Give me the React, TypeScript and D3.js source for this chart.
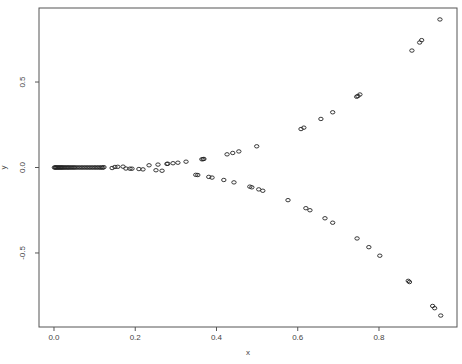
import React from "react";
import * as d3 from "d3";

const xTicks = [0.0, 0.2, 0.4, 0.6, 0.8];
const yTicks = [-0.5, 0.0, 0.5];

const clusterX = [
  0.001, 0.003, 0.004, 0.006, 0.008, 0.010, 0.012, 0.014, 0.016, 0.018, 0.020,
  0.022, 0.025, 0.027, 0.030, 0.033, 0.035, 0.038, 0.041, 0.044, 0.047, 0.050,
  0.053, 0.057, 0.061, 0.065, 0.069, 0.073, 0.077, 0.081, 0.085, 0.089, 0.093,
  0.097, 0.101, 0.105, 0.109, 0.113, 0.117, 0.120, 0.123,
];
const clusterY = [
  0, 0, 0, 0, 0, 0, 0, 0, 0, 0, 0, 0, 0, 0, 0, 0, 0, 0, 0, 0, 0, 0, 0, 0, 0.0002,
  -0.0003, 0.0003, -0.0004, 0.0005, -0.0005, 0.0006, -0.0007, 0.0008, -0.0009,
  0.001, -0.0012, 0.0013, -0.0014, 0.0016, -0.0017, 0.0019,
];

const outerX = [
  0.143, 0.150, 0.157, 0.170, 0.177, 0.187, 0.192, 0.209, 0.219, 0.234, 0.251,
  0.256, 0.266, 0.278, 0.280, 0.293, 0.305, 0.325, 0.349, 0.354, 0.364, 0.367,
  0.369, 0.381, 0.389, 0.418, 0.426, 0.440, 0.443, 0.455, 0.482, 0.487, 0.499,
  0.504, 0.514, 0.576, 0.608, 0.615, 0.620, 0.630, 0.657, 0.667, 0.686, 0.686,
  0.745, 0.748, 0.753, 0.746, 0.775, 0.802, 0.872, 0.875, 0.881, 0.900, 0.905,
  0.932, 0.937, 0.950, 0.952,
];
const outerY = [
  -0.003, 0.003, 0.004, 0.005, -0.006, -0.007, -0.007, -0.009, -0.011, 0.013,
  -0.016, 0.017, -0.019, 0.021, 0.022, 0.025, 0.028, 0.034, -0.043, -0.044,
  0.048, 0.049, 0.050, -0.055, -0.059, -0.073, 0.077, 0.085, -0.087, 0.094,
  -0.112, -0.116, 0.124, -0.128, -0.136, -0.191, 0.225, 0.233, -0.238, -0.25,
  0.284, -0.297, 0.323, -0.323, 0.414, 0.418, 0.427, -0.415, -0.466, -0.516,
  -0.663, -0.67, 0.684, 0.731, 0.745, -0.81, -0.823, 0.866, -0.866,
];

const W = 462;
const H = 364;
const left = 39;
const right = 457;
const top = 8;
const bottom = 327;

export default function App() {
  const x = d3.scaleLinear().domain([-0.0369, 0.992]).range([left, right]);
  const y = d3.scaleLinear().domain([-0.933, 0.933]).range([bottom, top]);
  const pts = clusterX
    .map((v, i) => [v, clusterY[i]])
    .concat(outerX.map((v, i) => [v, outerY[i]]));
  const axisCol = "#555";
  const font = "'Liberation Sans', Arial, sans-serif";
  return (
    <svg
      width={W}
      height={H}
      style={{ position: "absolute", left: 0, top: 0, background: "#fff" }}
    >
      <rect x={left} y={top} width={right - left} height={bottom - top} fill="none" stroke={axisCol} strokeWidth={1} />
      {xTicks.map((t) => (
        <g key={"xt" + t}>
          <line x1={x(t)} x2={x(t)} y1={bottom} y2={bottom + 4} stroke={axisCol} />
          <text x={x(t)} y={340} fontSize={8} fontFamily={font} fill="#444" textAnchor="middle">
            {t.toFixed(1)}
          </text>
        </g>
      ))}
      {yTicks.map((t) => (
        <g key={"yt" + t}>
          <line x1={left - 4} x2={left} y1={y(t)} y2={y(t)} stroke={axisCol} />
          <text
            transform={`translate(25,${y(t)}) rotate(-90)`}
            fontSize={8}
            fontFamily={font}
            fill="#444"
            textAnchor="middle"
          >
            {t.toFixed(1)}
          </text>
        </g>
      ))}
      <text x={248} y={355} fontSize={8} fontFamily={font} fill="#444" textAnchor="middle">x</text>
      <text transform={`translate(6,${y(0)}) rotate(-90)`} fontSize={8} fontFamily={font} fill="#444" textAnchor="middle">y</text>
      {pts.map((p, i) => (
        <ellipse key={i} cx={x(p[0])} cy={y(p[1])} rx={2.2} ry={1.7} fill="none" stroke="#222" strokeWidth={0.9} />
      ))}
    </svg>
  );
}
